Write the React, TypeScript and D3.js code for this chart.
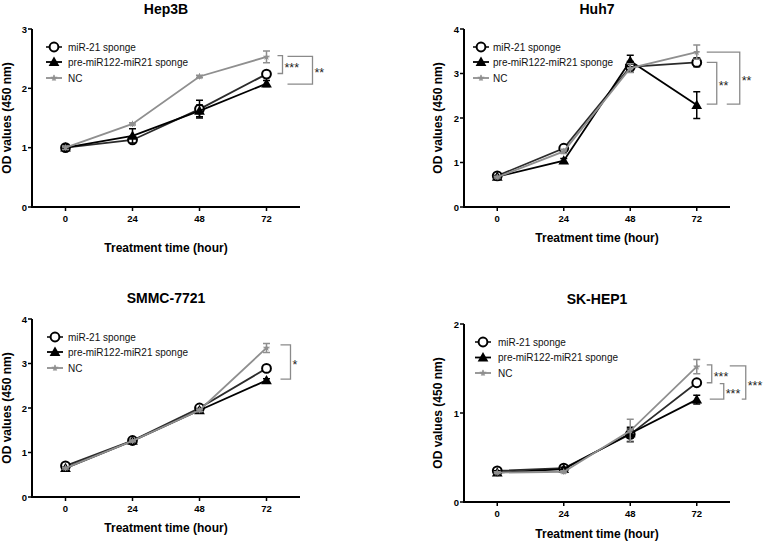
import React from 'react';
import * as d3 from 'd3';

// ---------- data ----------
const times = [0, 24, 48, 72];
const xTicks = [0, 24, 48, 72];
const seriesNames = ['miR-21 sponge', 'pre-miR122-miR21 sponge', 'NC'];
const xAxisTitle = 'Treatment time (hour)';
const yAxisTitle = 'OD values (450 nm)';

// Hep3B
const hep3bMiR21 = [1.0, 1.13, 1.65, 2.24];
const hep3bMiR21Err = [0.05, 0.03, 0.15, 0.04];
const hep3bPre = [1.0, 1.2, 1.62, 2.08];
const hep3bPreErr = [0.05, 0.12, 0.1, 0.05];
const hep3bNC = [1.0, 1.4, 2.2, 2.53];
const hep3bNCErr = [0.03, 0.02, 0.02, 0.1];
const hep3bTicks = [0, 1, 2, 3];
const hep3bSig = [
  { label: '***', top: 2.55, bottom: 2.25 },
  { label: '**', top: 2.54, bottom: 2.07 },
];

// Huh7
const huh7MiR21 = [0.7, 1.32, 3.15, 3.25];
const huh7MiR21Err = [0.03, 0.05, 0.12, 0.1];
const huh7Pre = [0.68, 1.04, 3.28, 2.29];
const huh7PreErr = [0.03, 0.05, 0.13, 0.3];
const huh7NC = [0.67, 1.25, 3.12, 3.48];
const huh7NCErr = [0.02, 0.05, 0.1, 0.16];
const huh7Ticks = [0, 1, 2, 3, 4];
const huh7Sig = [
  { label: '**', top: 3.25, bottom: 2.31 },
  { label: '**', top: 3.48, bottom: 2.31 },
];

// SMMC-7721
const smmcMiR21 = [0.7, 1.27, 2.0, 2.89];
const smmcMiR21Err = [0.03, 0.03, 0.03, 0.04];
const smmcPre = [0.65, 1.26, 1.95, 2.62];
const smmcPreErr = [0.02, 0.03, 0.04, 0.04];
const smmcNC = [0.65, 1.26, 1.95, 3.35];
const smmcNCErr = [0.02, 0.02, 0.03, 0.1];
const smmcTicks = [0, 1, 2, 3, 4];
const smmcSig = [{ label: '*', top: 3.42, bottom: 2.65 }];

// SK-HEP1
const skMiR21 = [0.35, 0.38, 0.76, 1.34];
const skMiR21Err = [0.02, 0.02, 0.08, 0.03];
const skPre = [0.33, 0.37, 0.77, 1.15];
const skPreErr = [0.02, 0.02, 0.05, 0.05];
const skNC = [0.33, 0.34, 0.8, 1.52];
const skNCErr = [0.01, 0.01, 0.13, 0.08];
const skTicks = [0, 1, 2];
const skSig = [
  { label: '***', top: 1.54, bottom: 1.34 },
  { label: '***', top: 1.33, bottom: 1.155 },
  { label: '***', top: 1.53, bottom: 1.155 },
];

// ---------- layout ----------
const FONT = 'Arial, "Liberation Sans", Helvetica, sans-serif';
const GRAY = '#8f8f8f';
const BRACKET = '#8a8a8a';

type Bracket = { topLeft: number; bottomLeft: number; right: number };

const panels = [
  {
    title: 'Hep3B', mir: hep3bMiR21, mirErr: hep3bMiR21Err, pre: hep3bPre, preErr: hep3bPreErr,
    nc: hep3bNC, ncErr: hep3bNCErr, yTicks: hep3bTicks, sig: hep3bSig,
    x0: 32, x1: 300, yTop: 29, yBot: 207, titleY: 9, tickLabelY: 218, xLabelY: 248, yLabelX: 7,
    legendX: 54, legendTextX: 68, legendY: [47, 62, 78],
    brackets: [
      { topLeft: 11, bottomLeft: 11, right: 16 },
      { topLeft: 21, bottomLeft: 21, right: 46 },
    ] as Bracket[],
  },
  {
    title: 'Huh7', mir: huh7MiR21, mirErr: huh7MiR21Err, pre: huh7Pre, preErr: huh7PreErr,
    nc: huh7NC, ncErr: huh7NCErr, yTicks: huh7Ticks, sig: huh7Sig,
    x0: 464, x1: 730, yTop: 29, yBot: 207, titleY: 9, tickLabelY: 218, xLabelY: 238, yLabelX: 438,
    legendX: 481, legendTextX: 493, legendY: [47, 62, 78],
    brackets: [
      { topLeft: 10, bottomLeft: 10, right: 20 },
      { topLeft: 10, bottomLeft: 30, right: 43 },
    ] as Bracket[],
  },
  {
    title: 'SMMC-7721', mir: smmcMiR21, mirErr: smmcMiR21Err, pre: smmcPre, preErr: smmcPreErr,
    nc: smmcNC, ncErr: smmcNCErr, yTicks: smmcTicks, sig: smmcSig,
    x0: 32, x1: 300, yTop: 319, yBot: 497, titleY: 298, tickLabelY: 508, xLabelY: 528, yLabelX: 7,
    legendX: 55, legendTextX: 68, legendY: [337, 352, 368],
    brackets: [{ topLeft: 14, bottomLeft: 14, right: 24 }] as Bracket[],
  },
  {
    title: 'SK-HEP1', mir: skMiR21, mirErr: skMiR21Err, pre: skPre, preErr: skPreErr,
    nc: skNC, ncErr: skNCErr, yTicks: skTicks, sig: skSig,
    x0: 464, x1: 730, yTop: 324, yBot: 502, titleY: 299, tickLabelY: 513, xLabelY: 534, yLabelX: 438,
    legendX: 483, legendTextX: 498, legendY: [342, 357.5, 373],
    brackets: [
      { topLeft: 10, bottomLeft: 10, right: 15 },
      { topLeft: 23, bottomLeft: 13, right: 27 },
      { topLeft: 33, bottomLeft: 45, right: 49 },
    ] as Bracket[],
  },
];

const triPath = d3.symbol().type(d3.symbolTriangle).size(50)() as string;
const starPath = d3.symbol().type(d3.symbolStar).size(16)() as string;

function Marker({ kind, cx, cy }: { kind: number; cx: number; cy: number }) {
  if (kind === 0)
    return <circle cx={cx} cy={cy} r={4.4} fill="white" stroke="black" strokeWidth={2} />;
  if (kind === 1)
    return <path d={triPath} transform={`translate(${cx},${cy + 0.8})`} fill="black" />;
  return (
    <g transform={`translate(${cx},${cy})`}>
      <path d={starPath} fill={GRAY} />
      <path d="M-3,0H3M0,-3V3" stroke={GRAY} strokeWidth={1} />
    </g>
  );
}

function Panel({ p }: { p: (typeof panels)[number] }) {
  const x = d3.scaleLinear().domain([-12, 84]).range([p.x0, p.x1]);
  const yMax = p.yTicks[p.yTicks.length - 1];
  const y = d3.scaleLinear().domain([0, yMax]).range([p.yBot, p.yTop]);
  const line = d3
    .line<number>()
    .x((_, i) => x(times[i]))
    .y((d) => y(d));
  const series = [
    { vals: p.mir, err: p.mirErr, color: '#2b2b2b', mColor: 'black', kind: 0 },
    { vals: p.pre, err: p.preErr, color: 'black', mColor: 'black', kind: 1 },
    { vals: p.nc, err: p.ncErr, color: GRAY, mColor: GRAY, kind: 2 },
  ];
  const xc = (p.x0 + p.x1) / 2;
  const yc = (p.yTop + p.yBot) / 2;
  const x72 = x(72);
  return (
    <g>
      <text x={xc} y={p.titleY} textAnchor="middle" dominantBaseline="central"
        fontFamily={FONT} fontWeight="bold" fontSize={14}>{p.title}</text>
      {/* axes */}
      <line x1={p.x0} x2={p.x0} y1={p.yTop} y2={p.yBot + 1} stroke="black" strokeWidth={2} />
      <line x1={p.x0 - 1} x2={p.x1} y1={p.yBot} y2={p.yBot} stroke="black" strokeWidth={2} />
      {p.yTicks.map((t) => (
        <g key={'y' + t}>
          <line x1={p.x0 - 4} x2={p.x0} y1={y(t)} y2={y(t)} stroke="black" strokeWidth={1.5} />
          <text x={p.x0 - 5} y={y(t)} textAnchor="end" dominantBaseline="central"
            fontFamily={FONT} fontWeight="bold" fontSize={9.5}>{t}</text>
        </g>
      ))}
      {xTicks.map((t) => (
        <g key={'x' + t}>
          <line x1={x(t)} x2={x(t)} y1={p.yBot} y2={p.yBot + 4} stroke="black" strokeWidth={1.5} />
          <text x={x(t)} y={p.tickLabelY} textAnchor="middle" dominantBaseline="central"
            fontFamily={FONT} fontWeight="bold" fontSize={9.5}>{t}</text>
        </g>
      ))}
      <text x={xc} y={p.xLabelY} textAnchor="middle" dominantBaseline="central"
        fontFamily={FONT} fontWeight="bold" fontSize={12}>{xAxisTitle}</text>
      <text transform={`translate(${p.yLabelX},${yc}) rotate(-90)`} textAnchor="middle"
        dominantBaseline="central" fontFamily={FONT} fontWeight="bold" fontSize={12}>{yAxisTitle}</text>
      {/* series */}
      {series.map((s, si) => (
        <g key={'s' + si}>
          <path d={line(s.vals) as string} fill="none" stroke={s.color} strokeWidth={1.8} />
          {s.vals.map((v, i) => {
            const cx = x(times[i]);
            const hi = y(v + s.err[i]);
            const lo = y(v - s.err[i]);
            return (
              <g key={i}>
                <path d={`M${cx},${hi}V${lo}M${cx - 3.5},${hi}H${cx + 3.5}M${cx - 3.5},${lo}H${cx + 3.5}`}
                  stroke={s.mColor} strokeWidth={1.5} fill="none" />
                <Marker kind={s.kind} cx={cx} cy={y(v)} />
              </g>
            );
          })}
        </g>
      ))}
      {/* significance brackets */}
      {p.sig.map((b, i) => {
        const br = p.brackets[i];
        const yt = y(b.top);
        const yb = y(b.bottom);
        const xr = x72 + br.right;
        return (
          <g key={'b' + i}>
            <path d={`M${x72 + br.topLeft},${yt}H${xr}V${yb}H${x72 + br.bottomLeft}`}
              fill="none" stroke={BRACKET} strokeWidth={1.3} />
            <text x={xr + 2} y={(yt + yb) / 2 + 3} dominantBaseline="central"
              fontFamily={FONT} fontSize={12.5} fill="#222">{b.label}</text>
          </g>
        );
      })}
      {/* legend */}
      {seriesNames.map((name, i) => {
        const ly = p.legendY[i];
        const s = series[i];
        return (
          <g key={'l' + i}>
            <line x1={p.legendX - 8} x2={p.legendX + 8} y1={ly} y2={ly} stroke={s.color} strokeWidth={1.8} />
            <Marker kind={s.kind} cx={p.legendX} cy={ly} />
            <text x={p.legendTextX} y={ly} dominantBaseline="central" fontFamily={FONT}
              fontSize={10} fill="#111">{name}</text>
          </g>
        );
      })}
    </g>
  );
}

export default function App() {
  return (
    <svg width={764} height={542} style={{ position: 'absolute', left: 0, top: 0, background: 'white' }}>
      <rect width={764} height={542} fill="white" />
      {panels.map((p) => (
        <Panel key={p.title} p={p} />
      ))}
    </svg>
  );
}
